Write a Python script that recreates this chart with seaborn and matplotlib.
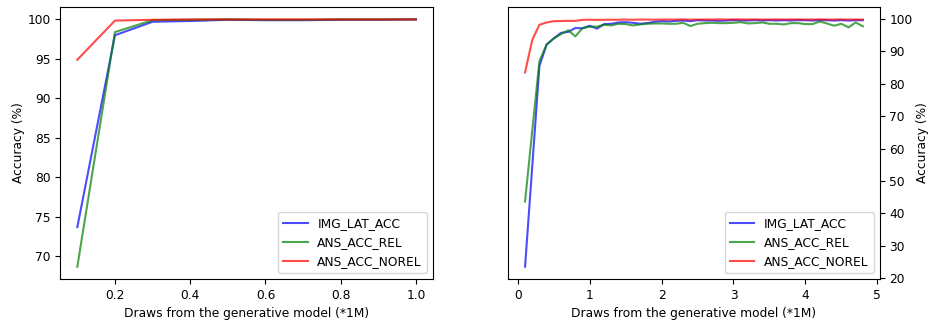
import numpy as np
import pandas as pd
import matplotlib
matplotlib.use("Agg")
import matplotlib.pyplot as plt
import seaborn as sns

series_names = ["IMG_LAT_ACC", "ANS_ACC_REL", "ANS_ACC_NOREL"]
series_colors = ["blue", "green", "red"]

# Left panel: draws 0.1 .. 1.0 (*1M)
left_x = [0.1, 0.2, 0.3, 0.4, 0.5, 0.6, 0.7, 0.8, 0.9, 1.0]
left_img_lat = [73.7, 97.95, 99.65, 99.75, 99.9, 99.85, 99.85, 99.9, 99.9, 99.95]
left_ans_rel = [68.7, 98.35, 99.85, 99.9, 99.95, 99.9, 99.9, 99.95, 99.95, 99.95]
left_ans_norel = [94.85, 99.8, 99.9, 99.95, 99.95, 99.95, 99.95, 99.95, 99.95, 99.95]

# Right panel: draws 0.1 .. 4.8 (*1M)
right_x = [0.1, 0.2, 0.3, 0.4, 0.5, 0.6, 0.7, 0.8, 0.9, 1.0,
           1.1, 1.2, 1.3, 1.4, 1.5, 1.6, 1.7, 1.8, 1.9, 2.0,
           2.1, 2.2, 2.3, 2.4, 2.5, 2.6, 2.7, 2.8, 2.9, 3.0,
           3.1, 3.2, 3.3, 3.4, 3.5, 3.6, 3.7, 3.8, 3.9, 4.0,
           4.1, 4.2, 4.3, 4.4, 4.5, 4.6, 4.7, 4.8]
right_img_lat = [23.6, 54.5, 85.5, 92.1, 94.0, 95.7, 96.0, 97.2, 97.1, 97.9,
                 97.0, 98.4, 98.5, 98.9, 99.0, 98.8, 98.5, 98.7, 99.1, 99.3,
                 99.2, 99.4, 99.5, 99.3, 99.6, 99.5, 99.5, 99.4, 99.5, 99.6,
                 99.5, 99.5, 99.6, 99.5, 99.6, 99.5, 99.6, 99.5, 99.6, 99.6,
                 99.5, 99.6, 99.6, 99.5, 99.6, 99.5, 99.6, 99.6]
right_ans_rel = [43.7, 65.5, 87.0, 92.1, 94.0, 95.3, 96.5, 94.6, 97.2, 97.6,
                 97.6, 98.2, 98.0, 98.5, 98.4, 98.0, 98.3, 98.5, 98.6, 98.6,
                 98.5, 98.5, 98.8, 97.8, 98.5, 98.7, 98.8, 98.7, 98.7, 98.8,
                 99.0, 98.6, 98.7, 98.9, 98.5, 98.5, 98.3, 98.7, 98.7, 98.4,
                 98.4, 99.2, 98.6, 97.9, 98.5, 97.4, 98.9, 97.7]
right_ans_norel = [83.5, 93.5, 98.2, 98.9, 99.3, 99.35, 99.4, 99.4, 99.7, 99.75,
                   99.7, 99.75, 99.75, 99.75, 99.8, 99.75, 99.8, 99.8, 99.75, 99.8,
                   99.8, 99.8, 99.85, 99.8, 99.8, 99.8, 99.8, 99.85, 99.8, 99.85,
                   99.85, 99.8, 99.85, 99.8, 99.8, 99.85, 99.8, 99.85, 99.85, 99.8,
                   99.8, 99.85, 99.8, 99.8, 99.85, 99.8, 99.8, 99.8]

xlabel = "Draws from the generative model (*1M)"
ylabel = "Accuracy (%)"


def to_long(x, ys):
    frames = []
    for name, vals in zip(series_names, ys):
        frames.append(pd.DataFrame({"x": x, "y": vals, "series": name}))
    return pd.concat(frames, ignore_index=True)


left_df = to_long(left_x, [left_img_lat, left_ans_rel, left_ans_norel])
right_df = to_long(right_x, [right_img_lat, right_ans_rel, right_ans_norel])

plt.rcParams["font.family"] = ["DejaVu Sans"]
plt.rcParams["font.size"] = 8.8

fig = plt.figure(figsize=(9.29, 3.2), dpi=100)
ax1 = fig.add_axes([0.065, 0.128, 0.401, 0.85])
ax2 = fig.add_axes([0.547, 0.128, 0.400, 0.85])

palette = dict(zip(series_names, series_colors))

for ax, df in [(ax1, left_df), (ax2, right_df)]:
    sns.lineplot(data=df, x="x", y="y", hue="series", palette=palette,
                 hue_order=series_names, ax=ax, alpha=0.7, linewidth=1.5,
                 estimator=None, sort=False)
    ax.set_xlabel(xlabel)
    leg = ax.legend(loc="lower right")
    leg.set_title(None)

ax1.set_ylabel(ylabel, labelpad=2)
ax1.set_yticks([70, 75, 80, 85, 90, 95, 100])
ax1.set_xticks([0.2, 0.4, 0.6, 0.8, 1.0])

ax2.yaxis.tick_right()
ax2.yaxis.set_label_position("right")
ax2.set_ylabel(ylabel, labelpad=2)
ax2.set_yticks([20, 30, 40, 50, 60, 70, 80, 90, 100])
ax2.set_xticks([0, 1, 2, 3, 4, 5])

fig.savefig("out.png", dpi=100)
